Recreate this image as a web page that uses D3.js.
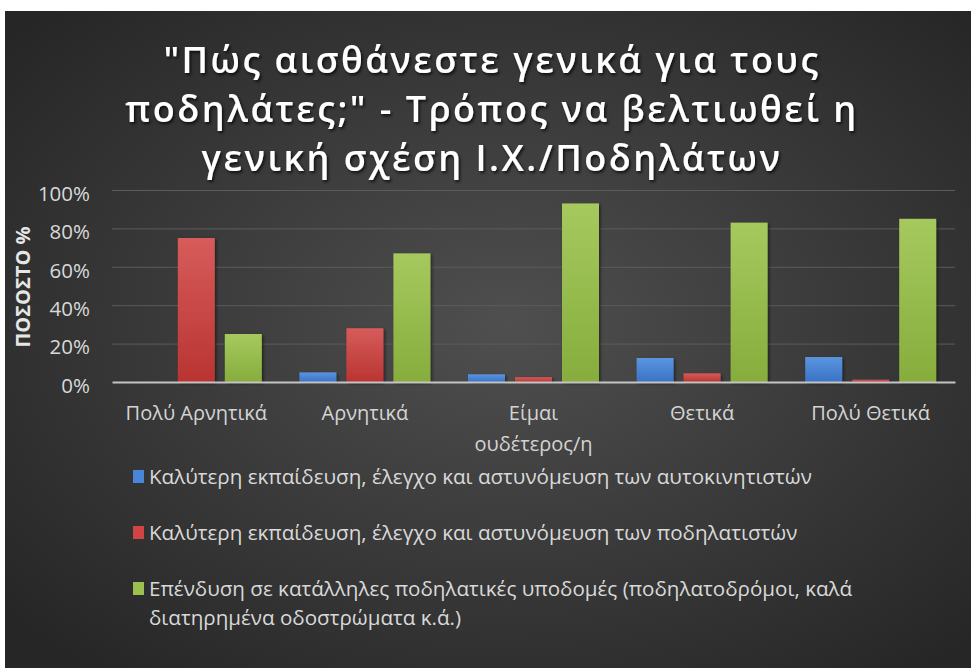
<!DOCTYPE html>
<html>
<head>
<meta charset="utf-8">
<script src="https://d3js.org/d3.v7.min.js"></script>
<style>
    body { margin: 0; background: #ffffff; }
    #chart { width: 971px; height: 668px; }
    text { font-family: "Open Sans", "Noto Sans", sans-serif; }
</style>
</head>
<body>
<div id="chart"></div>
<script>
// chart data
const titleLines = ["\"Πώς αισθάνεστε γενικά για τους", "ποδηλάτες;\" - Τρόπος να βελτιωθεί η", "γενική σχέση Ι.Χ./Ποδηλάτων"];
const categories = ["Πολύ Αρνητικά", "Αρνητικά", "Είμαι ουδέτερος/η", "Θετικά", "Πολύ Θετικά"];
const seriesNames = [
    "Καλύτερη εκπαίδευση, έλεγχο και αστυνόμευση των αυτοκινητιστών",
    "Καλύτερη εκπαίδευση, έλεγχο και αστυνόμευση των ποδηλατιστών",
    "Επένδυση σε κατάλληλες ποδηλατικές υποδομές (ποδηλατοδρόμοι, καλά διατηρημένα οδοστρώματα κ.ά.)"
];
const carDrivers = [0, 5, 4, 12.5, 13];
const cyclists = [75, 28, 2.5, 4.5, 1.2];
const infrastructure = [25, 67, 93, 83, 85];
const yTicks = [0, 20, 40, 60, 80, 100];
const yTitle = "ΠΟΣΟΣΤΟ %";

const seriesValues = [carDrivers, cyclists, infrastructure];
const colors = [
    {top: "#5b95e0", bottom: "#3a72c6", key: "#4a86d8"},
    {top: "#d65c5a", bottom: "#b93432", key: "#d04444"},
    {top: "#a6c95e", bottom: "#86ad3d", key: "#9bc04f"}
];

class BarVis {

    constructor(_parentElement) {
        this.parentElement = _parentElement;
        this.initVis();
    }

    initVis() {
        let vis = this;

        vis.W = 971;
        vis.H = 668;
        vis.margin = {top: 190, right: 16, bottom: 286, left: 112};
        vis.width = vis.W - vis.margin.left - vis.margin.right;
        vis.height = vis.H - vis.margin.top - vis.margin.bottom;

        vis.svgRoot = d3.select("#" + vis.parentElement).append("svg")
            .attr("width", vis.W)
            .attr("height", vis.H);

        let defs = vis.svgRoot.append("defs");

        let bg = defs.append("radialGradient")
            .attr("id", "bgGrad")
            .attr("cx", "52%").attr("cy", "48%").attr("r", "68%");
        bg.append("stop").attr("offset", "0%").attr("stop-color", "#4f4f4f");
        bg.append("stop").attr("offset", "100%").attr("stop-color", "#262626");

        colors.forEach((c, i) => {
            let g = defs.append("linearGradient")
                .attr("id", "barGrad" + i)
                .attr("x1", 0).attr("y1", 0).attr("x2", 0).attr("y2", 1);
            g.append("stop").attr("offset", "0%").attr("stop-color", c.top);
            g.append("stop").attr("offset", "100%").attr("stop-color", c.bottom);
        });

        defs.append("filter").attr("id", "titleShadow")
            .attr("x", "-10%").attr("y", "-20%").attr("width", "120%").attr("height", "150%")
            .append("feDropShadow")
            .attr("dx", 1.5).attr("dy", 2).attr("stdDeviation", 1.8)
            .attr("flood-color", "#000").attr("flood-opacity", 0.75);

        defs.append("filter").attr("id", "barShadow")
            .attr("x", "-20%").attr("y", "-10%").attr("width", "150%").attr("height", "130%")
            .append("feDropShadow")
            .attr("dx", 1.5).attr("dy", 1.5).attr("stdDeviation", 1.5)
            .attr("flood-color", "#000").attr("flood-opacity", 0.5);

        // chart background
        vis.svgRoot.append("rect")
            .attr("x", 5).attr("y", 11)
            .attr("width", vis.W - 5).attr("height", vis.H - 11)
            .attr("fill", "url(#bgGrad)");

        // title
        vis.svgRoot.append("text")
            .attr("class", "title")
            .attr("text-anchor", "middle")
            .attr("fill", "#ffffff")
            .attr("font-size", 36)
            .attr("font-weight", 600)
            .attr("letter-spacing", 2.5)
            .attr("filter", "url(#titleShadow)")
            .selectAll("tspan")
            .data(titleLines)
            .join("tspan")
            .attr("x", 492)
            .attr("y", (d, i) => 73 + i * 49)
            .text(d => d);

        vis.svg = vis.svgRoot.append("g")
            .attr("transform", "translate(" + vis.margin.left + "," + vis.margin.top + ")");

        vis.x0 = d3.scaleBand()
            .domain(categories)
            .range([0, vis.width])
            .paddingInner(0)
            .paddingOuter(0);

        let bw = vis.x0.bandwidth();
        let groupW = bw * 0.777;
        vis.x1 = d3.scaleBand()
            .domain(d3.range(seriesValues.length))
            .range([(bw - groupW) / 2, (bw + groupW) / 2])
            .paddingInner(0.213)
            .paddingOuter(0);

        vis.y = d3.scaleLinear()
            .domain([0, 100])
            .range([vis.height, 0]);

        // y axis with gridlines
        vis.svg.append("g")
            .attr("class", "axis axis-y")
            .call(d3.axisLeft(vis.y)
                .tickValues(yTicks)
                .tickSize(-vis.width)
                .tickPadding(22)
                .tickFormat(d => d + "%"))
            .call(g => g.select(".domain").remove())
            .call(g => g.selectAll(".tick line")
                .attr("stroke", "#5c5c5c")
                .attr("stroke-width", 1)
                .attr("stroke-opacity", d => d === 0 ? 0 : 1))
            .call(g => g.selectAll(".tick text")
                .attr("fill", "#d9d9d9")
                .attr("font-size", 20.5)
                .attr("font-family", "\"Open Sans\", sans-serif")
                .attr("dy", "0.5em"));

        // y axis title
        vis.svgRoot.append("text")
            .attr("transform", "translate(30," + 287 + ") rotate(-90)")
            .attr("text-anchor", "middle")
            .attr("fill", "#e6e6e6")
            .attr("font-size", 20)
            .attr("font-weight", 700)
            .text(yTitle);

        vis.updateVis();
    }

    updateVis() {
        let vis = this;

        let rows = categories.map((c, ci) => ({
            category: c,
            values: seriesValues.map((s, si) => ({series: si, value: s[ci]}))
        }));

        let groups = vis.svg.selectAll("g.group")
            .data(rows)
            .join("g")
            .attr("class", "group")
            .attr("transform", d => "translate(" + vis.x0(d.category) + ",0)");

        groups.selectAll("rect")
            .data(d => d.values.filter(v => v.value > 0))
            .join("rect")
            .attr("x", d => vis.x1(d.series))
            .attr("y", d => vis.y(d.value))
            .attr("width", vis.x1.bandwidth())
            .attr("height", d => vis.height - vis.y(d.value))
            .attr("fill", d => "url(#barGrad" + d.series + ")")
            .attr("filter", "url(#barShadow)");

        // category axis (baseline)
        vis.svg.append("g")
            .attr("class", "axis axis-x")
            .attr("transform", "translate(0," + vis.height + ")")
            .call(d3.axisBottom(vis.x0).tickSize(0).tickSizeOuter(0).tickPadding(24))
            .call(g => g.select(".domain")
                .attr("stroke", "#c4c4c4")
                .attr("stroke-width", 2.2))
            .call(g => g.selectAll(".tick text")
                .attr("fill", "#d4d4d4")
                .attr("font-size", 20)
                .attr("font-family", "\"Open Sans\", sans-serif")
                .call(wrap, vis.x0.bandwidth() - 20, 1.55));

        // legend
        let legend = vis.svgRoot.append("g").attr("class", "legend");
        let legendRows = [484, 540, 596];
        seriesNames.forEach((name, i) => {
            let item = legend.append("g")
                .attr("transform", "translate(133," + legendRows[i] + ")");
            item.append("rect")
                .attr("x", 0).attr("y", -14)
                .attr("width", 11).attr("height", 13)
                .attr("fill", colors[i].key);
            item.append("text")
                .attr("x", 16).attr("y", 0)
                .attr("fill", "#d9d9d9")
                .attr("font-size", 20.6)
                .text(name)
                .call(wrapLegend, 780, 29);
        });
    }
}

function wrap(text, width, lineEm) {
    text.each(function() {
        let t = d3.select(this);
        let words = t.text().split(/\s+/);
        let y = t.attr("y");
        let dy = parseFloat(t.attr("dy")) || 0;
        t.text(null);
        let line = [];
        let lineNo = 0;
        let tspan = t.append("tspan").attr("x", 0).attr("y", y).attr("dy", dy + "em");
        words.forEach(w => {
            line.push(w);
            tspan.text(line.join(" "));
            if (tspan.node().getComputedTextLength() > width && line.length > 1) {
                line.pop();
                tspan.text(line.join(" "));
                line = [w];
                lineNo++;
                tspan = t.append("tspan").attr("x", 0).attr("y", y)
                    .attr("dy", (lineNo * lineEm + dy) + "em").text(w);
            }
        });
    });
}

function wrapLegend(text, width, lineH) {
    text.each(function() {
        let t = d3.select(this);
        let words = t.text().split(/\s+/);
        let x = t.attr("x");
        t.text(null);
        let line = [];
        let lineNo = 0;
        let tspan = t.append("tspan").attr("x", x).attr("y", 0);
        words.forEach(w => {
            line.push(w);
            tspan.text(line.join(" "));
            if (tspan.node().getComputedTextLength() > width && line.length > 1) {
                line.pop();
                tspan.text(line.join(" "));
                line = [w];
                lineNo++;
                tspan = t.append("tspan").attr("x", x).attr("y", lineNo * lineH).text(w);
            }
        });
    });
}

new BarVis("chart");
</script>
</body>
</html>
